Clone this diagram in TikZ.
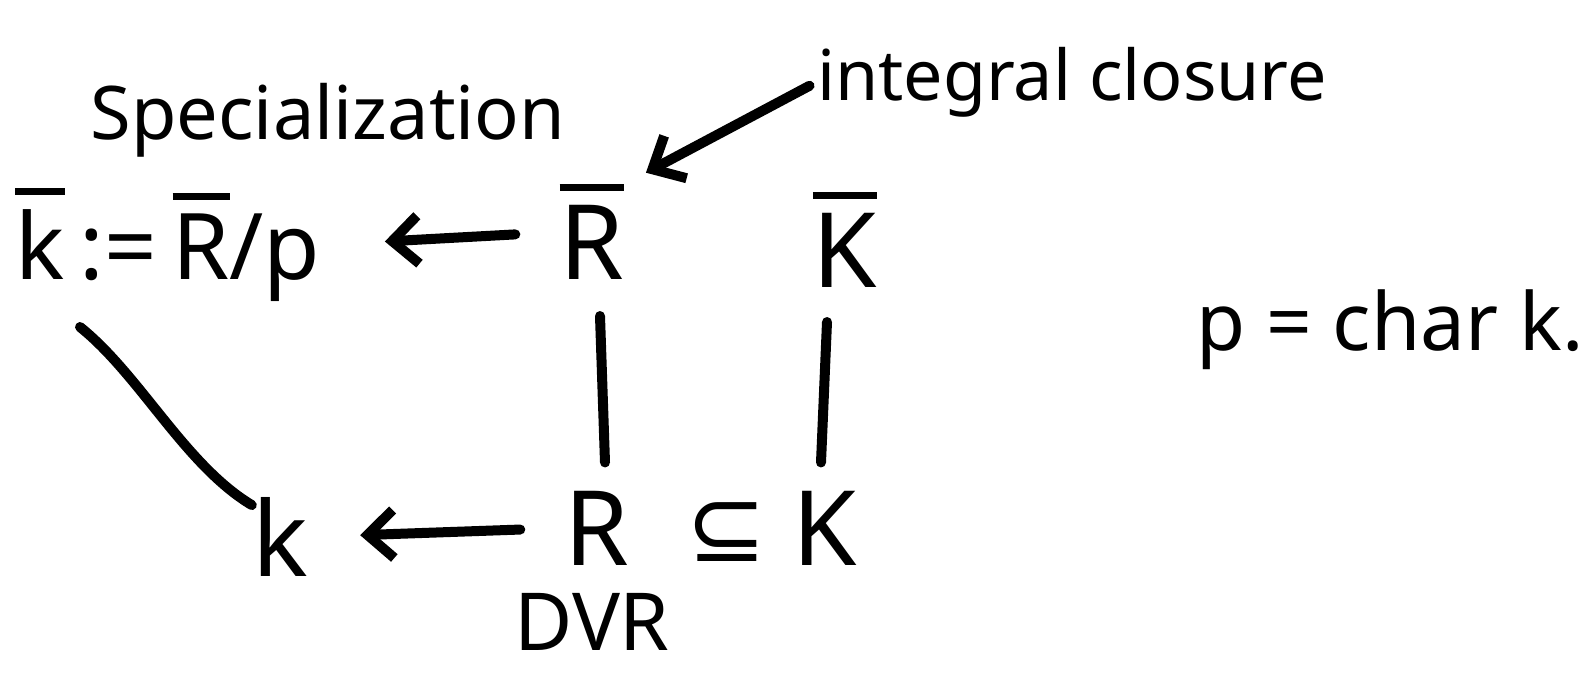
\documentclass[tikz,border=0pt]{standalone}
\usepackage{fontspec}
\setmainfont{Noto Sans}
\newfontfamily\symfont{DejaVu Sans}
\usetikzlibrary{arrows.meta,calc}
% letter with a heavy bar over it
\newcommand\ovl[1]{\leavevmode\vbox{\hrule height 3.5pt\kern 7pt\hbox{#1}}}
\tikzset{
  lbl/.style={inner sep=0pt, font=\fontsize{52}{60}\selectfont},
  word/.style={inner sep=0pt, font=\fontsize{37}{44}\selectfont},
  ink/.style={line width=5pt, line cap=round},
  hand/.style={ink, -{Straight Barb[length=13pt, width=24pt, line width=5pt]}},
}
\begin{document}
\begin{tikzpicture}[x=0.5pt, y=-0.5pt]
\useasboundingbox (0,0) rectangle (1581,678);
% labels
\node[word] (spec) at (328,120) {Specialization};
\node[word, font=\fontsize{35}{42}\selectfont] (ic) at (1072,82) {integral closure};
\node[word, font=\fontsize{40}{46}\selectfont] (char) at (1390,330) {p = char k.};
% objects of the square
\node[lbl, font=\fontsize{46}{54}\selectfont] (kb) at (168,245) {\ovl{k}\,:=\,\ovl{R}/p};
\node[lbl] (Rb) at (592,232) {\ovl{R}};
\node[lbl] (Kb) at (845,240) {\ovl{K}};
\node[lbl] (k) at (280,537) {k};
\node[lbl] (R) at (597,528) {R};
\node[lbl, font=\fontsize{48}{56}\selectfont\symfont] (sub) at (727,532) {⊆};
\node[lbl] (K) at (825,528) {K};
\node[word, font=\fontsize{40}{46}\selectfont] (dvr) at (592,622) {DVR};
\coordinate (kfoot) at (80,327);
% connectors
\draw[hand, shorten <=4pt, shorten >=12pt] (ic.west) -- (Rb.north east);
\draw[hand, shorten <=22pt, shorten >=32pt] (Rb.west) -- (kb.east);
\draw[ink] ($(Rb.south)+(8,36)$) -- ($(R.north)+(8,-28)$);
\draw[ink] ($(Kb.south)+(-18,34)$) -- ($(K.north)+(-4,-28)$);
\draw[ink] (kfoot) .. controls (140,375) and (185,465) .. ($(k.north west)+(0,8)$);
\draw[hand, shorten <=22pt, shorten >=26pt] (R.west) -- (k.east);
\end{tikzpicture}
\end{document}
